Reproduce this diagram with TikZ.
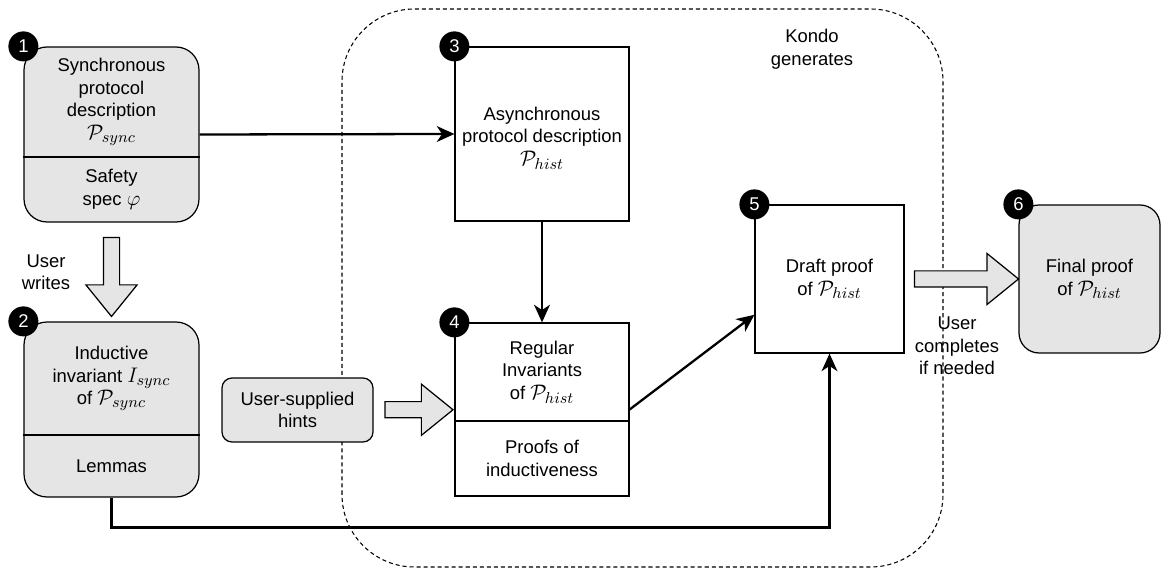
\documentclass[tikz,border=0pt]{standalone}
\usepackage{fontspec}
\setmainfont{Liberation Sans}
\usetikzlibrary{shapes.arrows,arrows.meta,calc}
\newcommand{\mathbig}[1]{{\fontsize{13}{13}\selectfont$#1$}}
\tikzset{
  box/.style={draw,line width=0.7pt,inner sep=0pt},
  graybox/.style={box,fill=gray!20,rounded corners=0.46cm},
  txt/.style={align=center,font=\fontsize{10.5}{12.8}\selectfont,inner sep=1pt},
  badge/.style={circle,fill=black,text=white,minimum size=0.6cm,inner sep=0pt,font=\fontsize{10.5}{12.6}\selectfont},
  conn/.style={line width=1.3pt,-{Stealth[length=10pt,width=9pt,inset=3pt]}},
  fatarrow/.style={single arrow,draw,line width=0.7pt,fill=gray!20,inner sep=0.15cm,
    single arrow head extend=0.35cm,single arrow tip angle=78},
}
\begin{document}
\begin{tikzpicture}
 \useasboundingbox (0,0) rectangle (23.24,11.38);
 % Kondo region
 \draw[line width=0.6pt,dash pattern=on 2.3pt off 1.7pt,rounded corners=1.45cm] (6.84,0.04) rectangle (18.86,11.20);
 \node[txt] (kondo) at (16.24,10.40) {Kondo\\generates};
 % boxes
 \node[graybox,minimum width=3.5cm,minimum height=3.5cm] (b1) at (2.23,8.69) {};
 \draw[line width=0.7pt] (b1.west |- 0,8.24) -- (b1.east |- 0,8.24);
 \node[txt] (b1t) at (2.23,9.34) {Synchronous\\protocol\\description\\\mathbig{\mathcal{P}_{sync}}};
 \node[txt] (b1b) at (2.23,7.59) {Safety\\spec \mathbig{\varphi}};
 \node[graybox,minimum width=3.5cm,minimum height=3.5cm] (b2) at (2.23,3.19) {};
 \draw[line width=0.7pt] (b2.west |- 0,2.68) -- (b2.east |- 0,2.68);
 \node[txt] (b2t) at (2.23,3.81) {Inductive\\invariant \mathbig{I_{sync}}\\of \mathbig{\mathcal{P}_{sync}}};
 \node[txt] (b2b) at (2.23,2.06) {Lemmas};
 \node[box,minimum width=3.48cm,minimum height=3.48cm] (b3) at (10.84,8.70) {};
 \node[txt] (b3t) at (10.84,8.62) {Asynchronous\\protocol description\\\mathbig{\mathcal{P}_{hist}}};
 \node[box,minimum width=3.48cm,minimum height=3.46cm] (b4) at (10.84,3.19) {};
 \draw[line width=0.7pt] (b4.west |- 0,2.96) -- (b4.east |- 0,2.96);
 \node[txt] (b4t) at (10.84,3.94) {Regular\\Invariants\\of \mathbig{\mathcal{P}_{hist}}};
 \node[txt] (b4b) at (10.84,2.21) {Proofs of\\inductiveness};
 \node[box,minimum width=2.98cm,minimum height=2.96cm] (b5) at (16.59,5.80) {};
 \node[txt] (b5t) at (16.59,5.80) {Draft proof\\of \mathbig{\mathcal{P}_{hist}}};
 \node[graybox,rounded corners=0.4cm,minimum width=2.82cm,minimum height=2.96cm] (b6) at (21.79,5.80) {};
 \node[txt] (b6t) at (21.79,5.80) {Final proof\\of \mathbig{\mathcal{P}_{hist}}};
 \node[graybox,rounded corners=0.2cm,minimum width=3.02cm,minimum height=1.28cm] (hints) at (5.95,3.18) {};
 \node[txt] (hintst) at (5.95,3.18) {User-supplied\\hints};
 % badges
 \foreach \b/\n in {b1/1,b2/2,b3/3,b4/4,b5/5,b6/6}
   \node[badge] (badge\n) at (\b.north west) {\n};
 % fat arrows
 \node[fatarrow,minimum height=1.58cm,rotate=-90] (fa1) at ($(b1.south)!0.5!(b2.north)$) {};
 \node[fatarrow,minimum height=1.36cm] (fa2) at ($(hints.east)!0.5!(b4.west)$) {};
 \node[fatarrow,minimum height=2.08cm] (fa3) at ($(b5.east)!0.5!(b6.west)$) {};
 \node[txt] (uw) at (0.92,5.94) {User\\writes};
 \node[txt] (uc) at (19.14,4.46) {User\\completes\\if needed};
 % connectors
 \draw[conn] (b1.east) -- (b3.west);
 \draw[conn] (b3.south) -- (b4.north);
 \draw[conn] (b4.east) -- ($(b5.north west)!0.74!(b5.south west)$);
 \draw[conn] (b2.south) -- ++(0,-0.6) -| (b5.south);
\end{tikzpicture}
\end{document}
